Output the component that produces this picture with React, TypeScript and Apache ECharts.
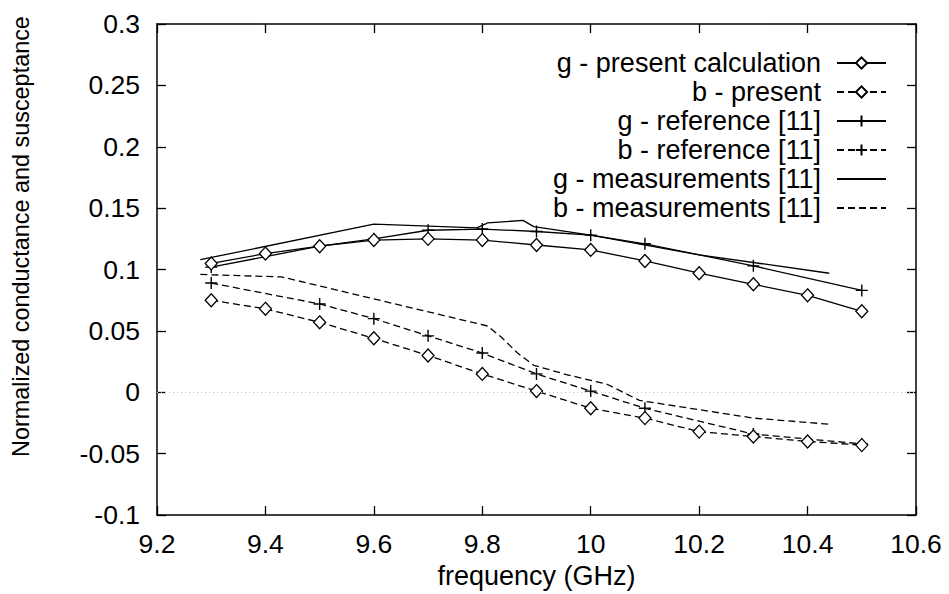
import React, { useEffect, useRef } from "react";
import * as echarts from "echarts";

const presentFreq = [9.3, 9.4, 9.5, 9.6, 9.7, 9.8, 9.9, 10.0, 10.1, 10.2, 10.3, 10.4, 10.5];
const gPresent = [0.105, 0.113, 0.119, 0.124, 0.125, 0.124, 0.120, 0.116, 0.107, 0.097, 0.088, 0.079, 0.066];
const bPresent = [0.075, 0.068, 0.057, 0.044, 0.030, 0.015, 0.001, -0.013, -0.021, -0.032, -0.036, -0.040, -0.043];

const refFreq = [9.3, 9.5, 9.6, 9.7, 9.8, 9.9, 10.0, 10.1, 10.3, 10.5];
const gRef = [0.102, 0.119, 0.125, 0.132, 0.133, 0.131, 0.128, 0.121, 0.103, 0.083];
const bRef = [0.089, 0.072, 0.060, 0.046, 0.032, 0.015, 0.001, -0.013, -0.034, -0.042];

const gMeasFreq = [9.28, 9.6, 9.79, 9.81, 9.875, 9.895, 10.0, 10.2, 10.44];
const gMeas = [0.108, 0.137, 0.134, 0.138, 0.140, 0.135, 0.128, 0.112, 0.097];

const bMeasFreq = [9.28, 9.43, 9.81, 9.835, 9.865, 9.895, 9.955, 10.03, 10.09, 10.3, 10.44];
const bMeas = [0.096, 0.094, 0.054, 0.045, 0.032, 0.022, 0.0145, 0.0066, -0.0066, -0.021, -0.026];

const seriesNames = [
  "g - present calculation",
  "b - present",
  "g - reference [11]",
  "b - reference [11]",
  "g - measurements [11]",
  "b - measurements [11]",
];

const xTicks = { min: 9.2, max: 10.6, step: 0.2 };
const yTicks = { min: -0.1, max: 0.3, step: 0.05 };

const FONT = "'Liberation Sans', Arial, Helvetica, sans-serif";
const PLUS = "path://M0,6H12M6,0V12";
const DASH = [7, 4];

function zip(xs: number[], ys: number[]) {
  return xs.map((x, i) => [x, ys[i]]);
}

export default function App() {
  const ref = useRef<HTMLDivElement>(null);
  useEffect(() => {
    if (!ref.current) return;
    const chart = echarts.init(ref.current, null, { renderer: "svg" });
    const fmt = (v: number) => String(parseFloat(v.toFixed(2)));
    const axisCommon = {
      axisLine: { show: true, onZero: false, lineStyle: { color: "#000", width: 1.5 } },
      axisTick: { show: true, inside: true, length: 9, lineStyle: { color: "#000", width: 1.3 } },
      splitLine: { show: false },
    };
    const diamondStyle = { color: "#fff", borderColor: "#000", borderWidth: 1.3 };
    const plusStyle = { color: "#000", borderColor: "#000", borderWidth: 1.4 };
    const hiddenIcon = { color: "rgba(0,0,0,0)", borderColor: "rgba(0,0,0,0)", borderWidth: 0, opacity: 0 };
    const option: any = {
      animation: false,
      backgroundColor: "#fff",
      textStyle: { fontFamily: FONT, color: "#000" },
      grid: { left: 157, right: 33, top: 24, bottom: 70, containLabel: false },
      xAxis: [
        {
          type: "value",
          min: xTicks.min,
          max: xTicks.max,
          interval: xTicks.step,
          position: "bottom",
          name: "frequency (GHz)",
          nameLocation: "middle",
          nameGap: 42,
          nameTextStyle: { fontSize: 27, fontFamily: FONT, color: "#000" },
          axisLabel: { fontSize: 26.5, margin: 15, color: "#000", fontFamily: FONT, formatter: fmt },
          ...axisCommon,
        },
        {
          type: "value",
          min: xTicks.min,
          max: xTicks.max,
          interval: xTicks.step,
          position: "top",
          axisLabel: { show: false },
          ...axisCommon,
        },
      ],
      yAxis: [
        {
          type: "value",
          min: yTicks.min,
          max: yTicks.max,
          interval: yTicks.step,
          position: "left",
          name: "Normalized conductance and susceptance",
          nameLocation: "middle",
          nameGap: 125,
          nameTextStyle: {
            fontSize: 23.4,
            fontFamily: FONT,
            color: "#000",
            padding: [0, 0, 0, 66],
          },
          axisLabel: { fontSize: 26.5, margin: 17, color: "#000", fontFamily: FONT, formatter: fmt },
          ...axisCommon,
        },
        {
          type: "value",
          min: yTicks.min,
          max: yTicks.max,
          interval: yTicks.step,
          position: "right",
          axisLabel: { show: false },
          ...axisCommon,
        },
      ],
      legend: {
        orient: "vertical",
        align: "right",
        right: 62,
        top: 49.5,
        padding: 0,
        itemWidth: 49,
        itemHeight: 14,
        itemGap: 2,
        data: [
          { name: seriesNames[0] },
          { name: seriesNames[1] },
          { name: seriesNames[2] },
          { name: seriesNames[3] },
          { name: seriesNames[4], itemStyle: hiddenIcon },
          { name: seriesNames[5], itemStyle: hiddenIcon },
        ],
        textStyle: {
          fontSize: 27,
          fontFamily: FONT,
          color: "#000",
          padding: [0, 11, 0, 0],
        },
      },
      series: [
        {
          name: seriesNames[0],
          type: "line",
          data: zip(presentFreq, gPresent),
          symbol: "diamond",
          symbolSize: [12, 13],
          lineStyle: { color: "#000", width: 1.3 },
          itemStyle: diamondStyle,
          z: 4,
        },
        {
          name: seriesNames[1],
          type: "line",
          data: zip(presentFreq, bPresent),
          symbol: "diamond",
          symbolSize: [12, 13],
          lineStyle: { color: "#000", width: 1.3, type: DASH },
          itemStyle: diamondStyle,
          z: 4,
        },
        {
          name: seriesNames[2],
          type: "line",
          data: zip(refFreq, gRef),
          symbol: PLUS,
          symbolSize: 12,
          lineStyle: { color: "#000", width: 1.3 },
          itemStyle: plusStyle,
          z: 3,
        },
        {
          name: seriesNames[3],
          type: "line",
          data: zip(refFreq, bRef),
          symbol: PLUS,
          symbolSize: 12,
          lineStyle: { color: "#000", width: 1.3, type: DASH },
          itemStyle: plusStyle,
          z: 3,
        },
        {
          name: seriesNames[4],
          type: "line",
          data: zip(gMeasFreq, gMeas),
          symbol: "none",
          lineStyle: { color: "#000", width: 1.3 },
          itemStyle: { color: "#000" },
          z: 2,
        },
        {
          name: seriesNames[5],
          type: "line",
          data: zip(bMeasFreq, bMeas),
          symbol: "none",
          lineStyle: { color: "#000", width: 1.3, type: DASH },
          itemStyle: { color: "#000" },
          z: 2,
          markLine: {
            silent: true,
            symbol: "none",
            label: { show: false },
            lineStyle: { color: "#bbb", width: 1, type: [1, 3] },
            data: [{ yAxis: 0 }],
          },
        },
      ],
    };
    chart.setOption(option);
    return () => chart.dispose();
  }, []);
  return (
    <div
      ref={ref}
      style={{ position: "fixed", left: 0, top: 0, width: 949, height: 594, background: "#fff" }}
    />
  );
}
